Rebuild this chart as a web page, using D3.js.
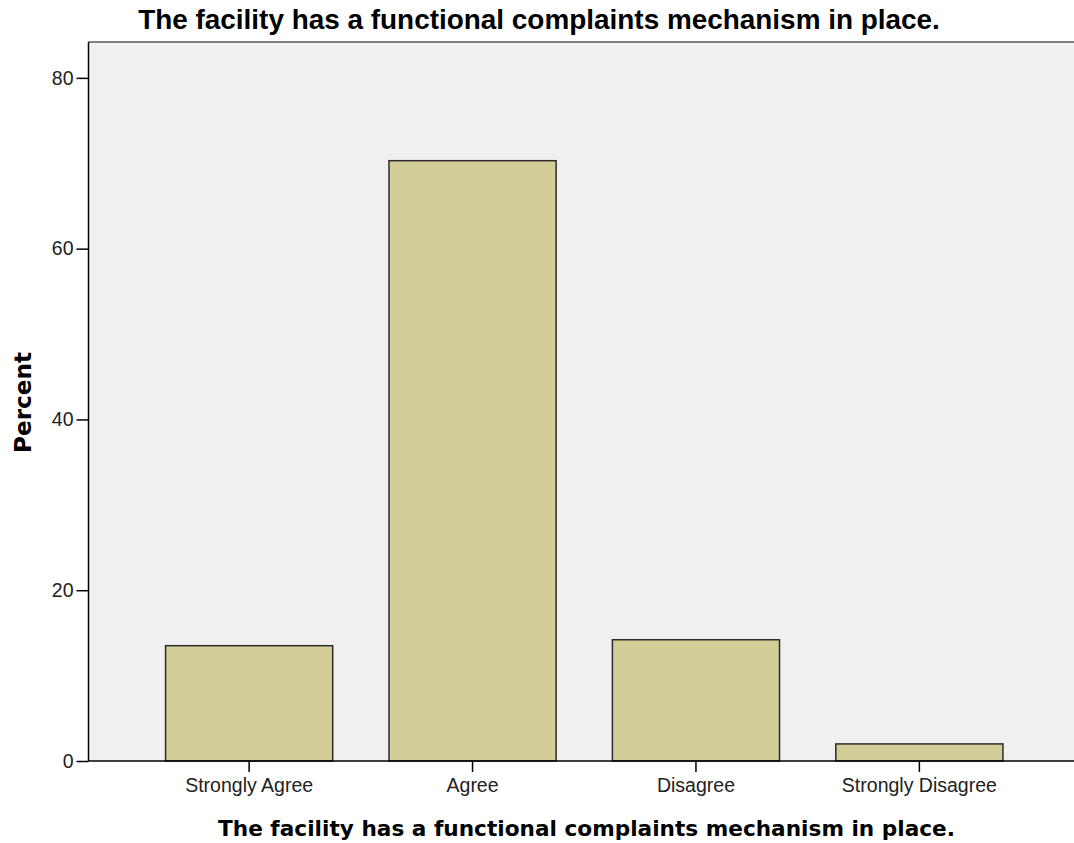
<!DOCTYPE html>
<html><head><meta charset="utf-8">
<script src="https://cdn.jsdelivr.net/npm/d3@7"></script>
<style>body{margin:0;background:#fff;} svg{display:block;}</style>
</head><body>
<svg id="chart" width="1074" height="843"></svg>
<script>
const categories = ["Strongly Agree", "Agree", "Disagree", "Strongly Disagree"];
const percents = [13.5, 70.3, 14.2, 2.0];
const yTicks = [0, 20, 40, 60, 80];
const chartTitle = "The facility has a functional complaints mechanism in place.";
const xTitle = "The facility has a functional complaints mechanism in place.";
const yTitle = "Percent";

const svg = d3.select("#chart");
const pLeft = 88.5, pTop = 42, pBottom = 761, pRight = 1080;

const x = d3.scaleBand().domain(categories).range([pLeft, pRight]).paddingInner(0.252).paddingOuter(0.345);
const y = d3.scaleLinear().domain([0, 84.2]).range([pBottom, pTop]);

// fit a text element's font size to a target width
function fitWidth(sel, target) {
  const fs = +sel.attr("font-size");
  const w = sel.node().getComputedTextLength();
  if (w > 0) sel.attr("font-size", (fs * target / w).toFixed(2));
}

// plot background
svg.append("rect").attr("x", pLeft).attr("y", pTop).attr("width", pRight - pLeft).attr("height", pBottom - pTop)
  .attr("fill", "#f0f0f0");
// top border
svg.append("line").attr("x1", pLeft).attr("x2", 1074).attr("y1", pTop).attr("y2", pTop)
  .attr("stroke", "#808080").attr("stroke-width", 2);

// bars
svg.append("g").selectAll("rect").data(categories).join("rect")
  .attr("x", d => x(d)).attr("width", x.bandwidth())
  .attr("y", (d, i) => y(percents[i])).attr("height", (d, i) => y(0) - y(percents[i]))
  .attr("fill", "#d3ce97").attr("stroke", "#2b2b2b").attr("stroke-width", 1.5);

// y axis
const yAxis = svg.append("g").attr("transform", `translate(${pLeft},0)`)
  .call(d3.axisLeft(y).tickValues(yTicks).tickSize(12).tickPadding(3).tickFormat(d3.format("d")));
yAxis.select(".domain").attr("d", `M0,${pTop}V${pBottom}`).attr("stroke", "#000").attr("stroke-width", 1.5);
yAxis.selectAll(".tick line").attr("stroke", "#000").attr("stroke-width", 1.5);
yAxis.selectAll("text").attr("font-family", "Liberation Sans, Arial, sans-serif").attr("font-size", 19.5).attr("fill", "#222");

// x axis
const xAxis = svg.append("g").attr("transform", `translate(0,${pBottom})`)
  .call(d3.axisBottom(x).tickSize(11).tickPadding(6));
xAxis.select(".domain").attr("d", `M${pLeft},0H1074`).attr("stroke", "#000").attr("stroke-width", 1.5);
xAxis.selectAll(".tick line").attr("stroke", "#000").attr("stroke-width", 1.5);
xAxis.selectAll("text").attr("font-family", "Liberation Sans, Arial, sans-serif").attr("font-size", 19.5).attr("fill", "#222");

// titles
const t1 = svg.append("text").attr("x", 539).attr("y", 29).attr("text-anchor", "middle")
  .attr("font-family", "Liberation Sans, Arial, sans-serif").attr("font-weight", "bold")
  .attr("font-size", 28).attr("fill", "#000").text(chartTitle);
fitWidth(t1, 802);
const t2 = svg.append("text").attr("x", 586.5).attr("y", 836).attr("text-anchor", "middle")
  .attr("font-family", "DejaVu Sans, Verdana, sans-serif").attr("font-weight", "bold")
  .attr("font-size", 20).attr("fill", "#000").text(xTitle);
fitWidth(t2, 737);
const t3 = svg.append("text").attr("transform", "translate(31,402.5) rotate(-90)").attr("text-anchor", "middle")
  .attr("font-family", "DejaVu Sans, Verdana, sans-serif").attr("font-weight", "bold")
  .attr("font-size", 20).attr("fill", "#000").text(yTitle);
fitWidth(t3, 101);
</script>
</body></html>
